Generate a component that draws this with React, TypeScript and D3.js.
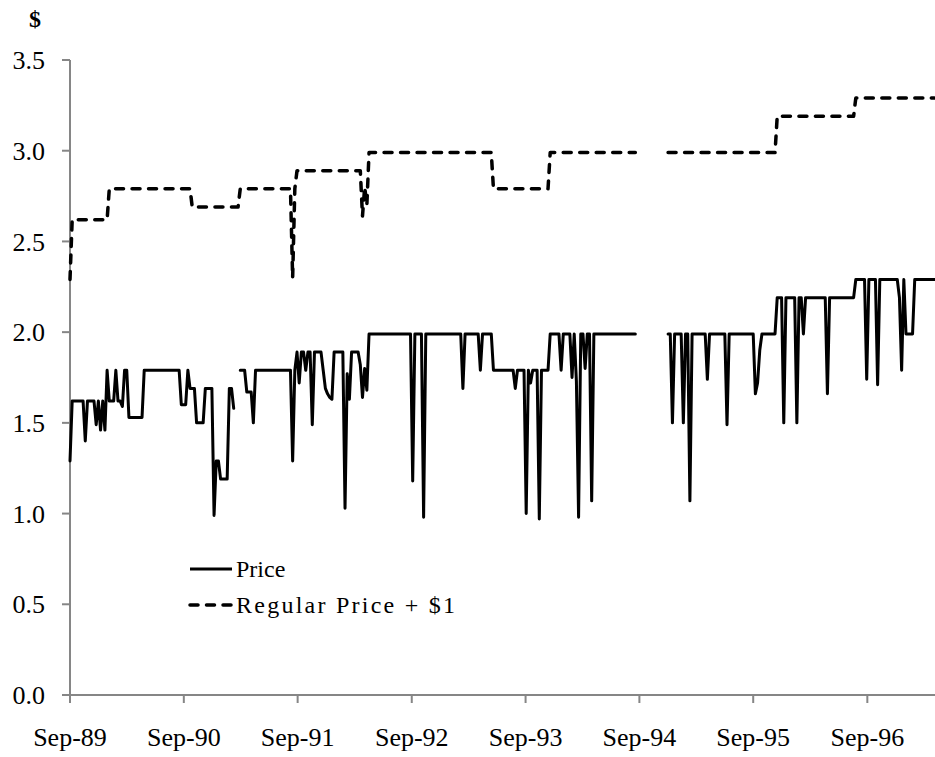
import * as d3 from 'd3';
import React, { useEffect, useRef } from 'react';

// weekly series, stored as change points [week, value]; a value holds until the next change
const startDate = new Date(1989, 8, 1);
const endDate = new Date(1997, 3, 6);
const lastWeek = 396;

const yTicks = [0, 0.5, 1, 1.5, 2, 2.5, 3, 3.5];
const tickYears = [1989, 1990, 1991, 1992, 1993, 1994, 1995, 1996];

const priceSteps: [number, number | null][] = [
  [0, 1.29], [1, 1.62], [7, 1.4], [8, 1.62], [12, 1.49], [13, 1.62], [14, 1.46], [15, 1.62],
  [16, 1.46], [17, 1.79], [18, 1.62], [21, 1.79], [22, 1.62], [24, 1.59], [25, 1.79], [27, 1.53],
  [34, 1.79], [51, 1.6], [54, 1.79], [55, 1.69], [58, 1.5], [62, 1.69], [66, 0.99], [67, 1.29],
  [69, 1.19], [73, 1.69], [75, 1.58], [76, null], [78, 1.79], [81, 1.67], [84, 1.5], [85, 1.79],
  [102, 1.29], [103, 1.79], [104, 1.89], [105, 1.72], [106, 1.89], [108, 1.79], [109, 1.89],
  [111, 1.49], [112, 1.89], [116, 1.79], [117, 1.69], [118, 1.66], [119, 1.64], [120, 1.63],
  [121, 1.89], [126, 1.03], [127, 1.77], [128, 1.63], [129, 1.89], [133, 1.82], [134, 1.64],
  [135, 1.8], [136, 1.68], [137, 1.99], [157, 1.18], [158, 1.99], [162, 0.98], [163, 1.99],
  [180, 1.69], [181, 1.99], [188, 1.79], [189, 1.99], [194, 1.79], [204, 1.69], [205, 1.79],
  [209, 1.0], [210, 1.79], [211, 1.72], [212, 1.79], [215, 0.97], [216, 1.79], [220, 1.99],
  [225, 1.79], [226, 1.99], [230, 1.75], [231, 1.99], [232, 1.73], [233, 0.98], [234, 1.99],
  [236, 1.8], [237, 1.99], [239, 1.07], [240, 1.99], [260, null], [274, 1.99], [276, 1.5],
  [277, 1.99], [281, 1.5], [282, 1.99], [284, 1.07], [285, 1.99], [292, 1.74], [293, 1.99],
  [301, 1.49], [302, 1.99], [314, 1.66], [315, 1.72], [316, 1.9], [317, 1.99], [324, 2.19],
  [327, 1.5], [328, 2.19], [333, 1.5], [334, 2.19], [336, 1.99], [337, 2.19], [347, 1.66],
  [348, 2.19], [360, 2.29], [365, 1.74], [366, 2.29], [370, 1.71], [371, 2.29], [380, 2.19],
  [381, 1.79], [382, 2.29], [383, 1.99], [387, 2.29],
];

const regularSteps: [number, number | null][] = [
  [0, 1.29], [1, 1.62], [18, 1.79], [56, 1.69], [78, 1.79], [102, 1.3], [103, 1.79], [104, 1.89],
  [134, 1.64], [135, 1.8], [136, 1.7], [137, 1.99], [194, 1.79], [220, 1.99], [260, null],
  [274, 1.99], [324, 2.19], [360, 2.29],
];

type Pt = { date: Date; value: number | null };

const expand = (steps: [number, number | null][]): Pt[] => {
  const out: Pt[] = [];
  let k = 0;
  for (let w = 0; w <= lastWeek; w++) {
    while (k + 1 < steps.length && steps[k + 1][0] <= w) k++;
    out.push({ date: d3.timeDay.offset(startDate, 7 * w), value: steps[k][1] });
  }
  return out;
};

const W = 935;
const H = 757;
const font = '"Liberation Serif", "Times New Roman", serif';

const PriceChart = () => {
  const ref = useRef<SVGSVGElement | null>(null);

  useEffect(() => {
    const svg = d3.select(ref.current);
    svg.selectAll('*').remove();

    const x = d3.scaleTime().domain([startDate, endDate]).range([70, 935]);
    const y = d3.scaleLinear().domain([0, 3.5]).range([695, 60]);
    const axisColor = '#868686';

    // axes
    svg.append('line').attr('x1', 70).attr('x2', 70).attr('y1', y(3.5)).attr('y2', y(0))
      .attr('stroke', axisColor).attr('stroke-width', 2);
    svg.append('line').attr('x1', 70).attr('x2', W).attr('y1', y(0)).attr('y2', y(0))
      .attr('stroke', axisColor).attr('stroke-width', 2);

    svg.selectAll('.ytick').data(yTicks).enter().append('line')
      .attr('x1', 62).attr('x2', 70).attr('y1', d => y(d)).attr('y2', d => y(d))
      .attr('stroke', axisColor).attr('stroke-width', 2);
    svg.selectAll('.ylab').data(yTicks).enter().append('text')
      .attr('x', 45).attr('y', d => y(d)).attr('dy', '0.35em')
      .attr('text-anchor', 'end').style('font-family', font).style('font-size', '26px')
      .text(d => d.toFixed(1));

    const xTicks = tickYears.map(yr => new Date(yr, 8, 1));
    const fmt = d3.timeFormat('%b-%y');
    svg.selectAll('.xtick').data(xTicks).enter().append('line')
      .attr('x1', d => x(d)).attr('x2', d => x(d)).attr('y1', y(0)).attr('y2', y(0) + 8)
      .attr('stroke', axisColor).attr('stroke-width', 2);
    svg.selectAll('.xlab').data(xTicks).enter().append('text')
      .attr('x', d => x(d)).attr('y', 746)
      .attr('text-anchor', 'middle').style('font-family', font).style('font-size', '26px')
      .text(d => fmt(d));

    svg.append('text').attr('x', 35).attr('y', 27).attr('text-anchor', 'middle')
      .style('font-family', font).style('font-size', '24px').style('font-weight', 'bold')
      .text('$');

    // series
    const price = expand(priceSteps);
    const regular = expand(regularSteps);

    const line = d3.line<Pt>()
      .defined(d => d.value !== null)
      .x(d => x(d.date))
      .y(d => y(d.value as number));
    const regLine = d3.line<Pt>()
      .defined(d => d.value !== null)
      .x(d => x(d.date))
      .y(d => y((d.value as number) + 1));

    svg.append('path').datum(regular).attr('d', regLine)
      .attr('fill', 'none').attr('stroke', '#000').attr('stroke-width', 3.5)
      .attr('stroke-dasharray', '8 8.5').attr('stroke-linecap', 'round').attr('stroke-linejoin', 'round');
    svg.append('path').datum(price).attr('d', line)
      .attr('fill', 'none').attr('stroke', '#000').attr('stroke-width', 3)
      .attr('stroke-linejoin', 'round').attr('stroke-linecap', 'round');

    // legend
    const legend = [
      { label: 'Price', dash: null, y: 569, len: null },
      { label: 'Regular Price + $1', dash: '8 8.5', y: 605, len: 219 },
    ];
    legend.forEach(l => {
      svg.append('line').attr('x1', 190).attr('x2', 232).attr('y1', l.y).attr('y2', l.y)
        .attr('stroke', '#000').attr('stroke-width', l.dash ? 3.5 : 3)
        .attr('stroke-linecap', l.dash ? 'round' : 'butt')
        .attr('stroke-dasharray', l.dash ?? null);
      const t = svg.append('text').attr('x', 236).attr('y', l.y).attr('dy', '0.33em')
        .style('font-family', font).style('font-size', '24px').text(l.label);
      if (l.len) t.attr('textLength', l.len).attr('lengthAdjust', 'spacing');
    });
  }, []);

  return <svg ref={ref} width={W} height={H} style={{ display: 'block' }} />;
};

export default function App() {
  return (
    <div style={{ position: 'absolute', left: 0, top: 0 }}>
      <PriceChart />
    </div>
  );
}
